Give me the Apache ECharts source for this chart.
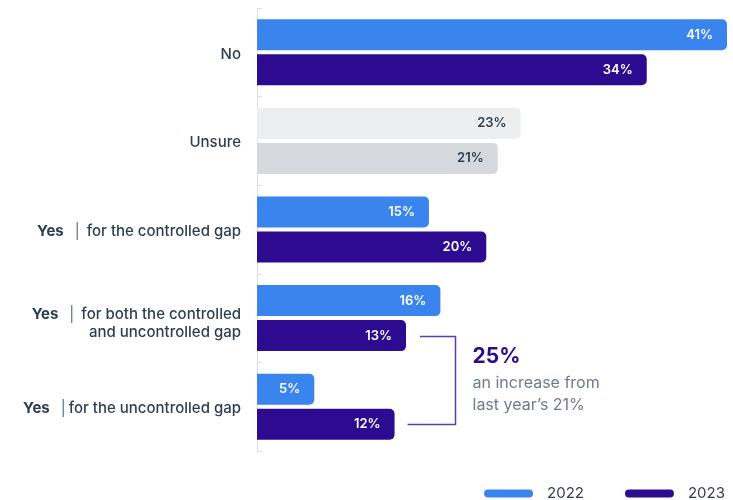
<!DOCTYPE html>
<html>
<head>
<meta charset="utf-8">
<script src="https://cdn.jsdelivr.net/npm/echarts@6/dist/echarts.min.js"></script>
<style>
  html, body { margin: 0; padding: 0; background: #ffffff; }
  #chart { width: 733px; height: 500px; }
</style>
</head>
<body>
<div id="chart"></div>
<script>
// Survey answers, listed top to bottom
const categories = [
  "No",
  "Unsure",
  "Yes | for the controlled gap",
  "Yes | for both the controlled\nand uncontrolled gap",
  "Yes | for the uncontrolled gap"
];
const seriesNames = ["2022", "2023"];
const values2022 = [41, 23, 15, 16, 5];
const values2023 = [34, 21, 20, 13, 12];
const calloutValue = "25%";
const calloutLines = ["an increase from", "last year\u2019s 21%"];

const BLUE = "#3a84ee";
const PURPLE = "#2c0b91";
const TEXT = "#2d3e50";
const GREY_LIGHT = "#eceef0";
const GREY_DARK = "#d5d9dd";
const BAR_W = 31;
const BAR_GAP = 4;

const chart = echarts.init(document.getElementById("chart"), null, { renderer: "canvas" });

function buildData(values, color, neutralColor) {
  return values.map((v, i) => {
    if (categories[i] === "Unsure") {
      return {
        value: v,
        itemStyle: { color: neutralColor },
        label: { color: TEXT }
      };
    }
    return { value: v, itemStyle: { color: color } };
  });
}

// "Yes | detail" becomes a bold lead word, a thin divider and the detail text
function categoryLabel(value) {
  const parts = value.split(" | ");
  if (parts.length < 2) return "{t|" + value + "}";
  const lines = parts[1].split("\n");
  const sepStyle = lines[0].indexOf("for the uncontrolled") === 0 ? "sep2" : "sep";
  let out = "{b|" + parts[0] + "}{" + sepStyle + "||}{t|" + lines[0] + "}";
  for (let k = 1; k < lines.length; k++) out += "\n{t|" + lines[k] + "}";
  if (lines.length > 1) out = "{sp| }\n" + out;
  return out;
}

const barLabel = {
  show: true,
  position: "insideRight",
  distance: 14,
  color: "#ffffff",
  fontFamily: "Inter",
  fontSize: 13,
  fontWeight: 600,
  formatter: p => p.value + "%"
};

const option = {
  animation: false,
  backgroundColor: "#ffffff",
  grid: { left: 257, right: 6, top: 8, bottom: 49, containLabel: false },
  legend: {
    data: seriesNames,
    right: 3,
    top: 481,
    itemWidth: 49,
    itemHeight: 8,
    itemGap: 41,
    icon: "path://M4,0 H45 A4,4 0 0 1 45,8 H4 A4,4 0 0 1 4,0 Z",
    textStyle: { color: TEXT, fontFamily: "Inter", fontSize: 15, padding: [0, 0, 0, 9] }
  },
  xAxis: {
    type: "value",
    min: 0,
    max: 41,
    show: false
  },
  yAxis: {
    type: "category",
    inverse: true,
    data: categories,
    axisLine: { show: true, lineStyle: { color: "#dadee3", width: 1 } },
    axisTick: { show: true, inside: true, length: 5, lineStyle: { color: "#dadee3" } },
    axisLabel: {
      margin: 16,
      align: "right",
      padding: [4, 0, 0, 0],
      formatter: categoryLabel,
      rich: {
        t: { color: TEXT, fontFamily: "Inter", fontSize: 15, fontWeight: 500, lineHeight: 18, align: "right" },
        b: { color: TEXT, fontFamily: "Inter", fontSize: 15, fontWeight: 700, lineHeight: 18 },
        sep: { color: "#5f6f81", fontFamily: "Inter", fontSize: 15, lineHeight: 18, padding: [0, 7, 0, 11] },
        sep2: { color: "#5f6f81", fontFamily: "Inter", fontSize: 15, lineHeight: 18, padding: [0, 3, 0, 11] },
        sp: { fontSize: 1, lineHeight: 7, height: 7 }
      }
    }
  },
  series: [
    {
      name: seriesNames[0],
      type: "bar",
      barWidth: BAR_W,
      barGap: (BAR_GAP / BAR_W * 100).toFixed(1) + "%",
      itemStyle: { color: BLUE, borderRadius: [0, 5, 5, 0] },
      label: barLabel,
      data: buildData(values2022, BLUE, GREY_LIGHT)
    },
    {
      name: seriesNames[1],
      type: "bar",
      barWidth: BAR_W,
      barGap: (BAR_GAP / BAR_W * 100).toFixed(1) + "%",
      itemStyle: { color: PURPLE, borderRadius: [0, 5, 5, 0] },
      label: barLabel,
      data: buildData(values2023, PURPLE, GREY_DARK)
    }
  ]
};

chart.setOption(option);

// Bracket joining the two 2023 "Yes" bars, with the callout text beside it
const iBoth = 3, iUnc = 4;
const half = (BAR_W + BAR_GAP) / 2;
const yTop = chart.convertToPixel({ yAxisIndex: 0 }, iBoth) + half;
const yBot = chart.convertToPixel({ yAxisIndex: 0 }, iUnc) + half;
const xTop = chart.convertToPixel({ xAxisIndex: 0 }, values2023[iBoth]) + 14;
const xBot = chart.convertToPixel({ xAxisIndex: 0 }, values2023[iUnc]) + 13;
const xBracket = Math.round(chart.convertToPixel({ xAxisIndex: 0 }, values2023[iBoth]) + 49) + 0.5;
const xText = xBracket + 17;
const yMid = (yTop + yBot) / 2;

chart.setOption({
  graphic: [
    {
      type: "polyline",
      silent: true,
      shape: { points: [[xTop, Math.round(yTop) + 0.5], [xBracket, Math.round(yTop) + 0.5], [xBracket, Math.round(yBot) + 0.5], [xBot, Math.round(yBot) + 0.5]] },
      style: { stroke: "#5a3cb4", lineWidth: 1.5, fill: null }
    },
    {
      type: "text",
      silent: true,
      x: xText,
      y: yMid - 23,
      style: {
        text: calloutValue,
        fill: PURPLE,
        font: "700 21px Inter",
        textVerticalAlign: "middle"
      }
    },
    {
      type: "text",
      silent: true,
      x: xText,
      y: yMid - 8,
      style: {
        text: calloutLines.join("\n"),
        fill: "#6c7b8d",
        font: "400 16px Inter",
        lineHeight: 22,
        textVerticalAlign: "top"
      }
    }
  ]
});
</script>
</body>
</html>
